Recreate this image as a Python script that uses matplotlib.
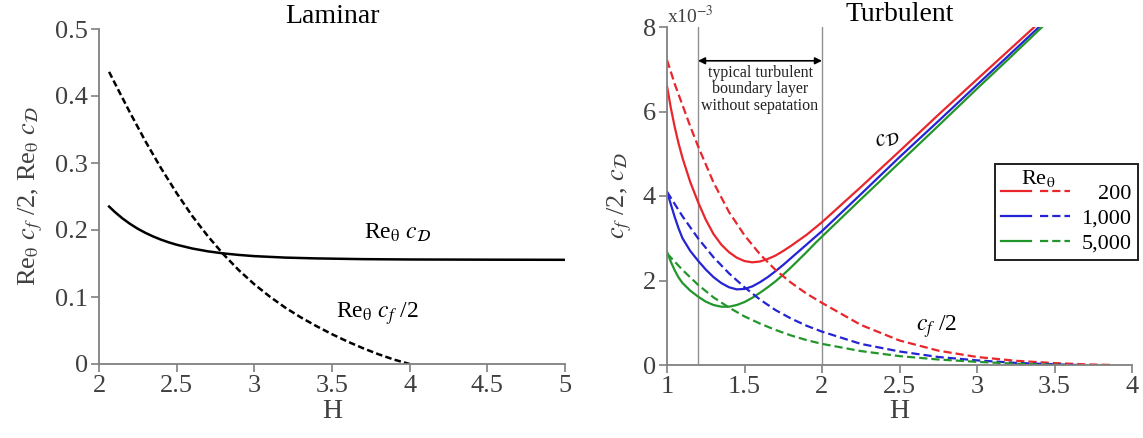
import matplotlib
matplotlib.use("Agg")
import matplotlib.pyplot as plt
from matplotlib.legend_handler import HandlerTuple

plt.rcParams['font.family'] = ['Liberation Serif', 'DejaVu Serif']
plt.rcParams['mathtext.fontset'] = 'stix'

# ---- laminar closure (Re_theta * cf/2 and Re_theta * cD vs H)
lam_H_cf = [2.065, 2.1, 2.2, 2.3, 2.4, 2.5, 2.6, 2.7, 2.8, 2.9, 3.0, 3.1, 3.2, 3.3,
            3.4, 3.5, 3.6, 3.7, 3.8, 3.9, 4.0]
lam_cf = [0.436, 0.420, 0.375, 0.332, 0.292, 0.255, 0.221, 0.191, 0.164, 0.140, 0.119,
          0.1005, 0.084, 0.0695, 0.0565, 0.0445, 0.0335, 0.0235, 0.0145, 0.0065, 0.0]

lam_H_cd = [2.065, 2.1, 2.15, 2.2, 2.25, 2.3, 2.35, 2.4, 2.45, 2.5, 2.6, 2.7, 2.8, 2.9,
            3.0, 3.2, 3.4, 3.7, 4.0, 4.5, 5.0]
lam_cd = [0.235, 0.2273, 0.2175, 0.2091, 0.2018, 0.1956, 0.1902, 0.1855, 0.1815, 0.178,
          0.1724, 0.1682, 0.1651, 0.1628, 0.161, 0.1588, 0.1576, 0.1565, 0.156, 0.1557,
          0.1555]

# ---- turbulent closure, values in units of 1e-3
Re_labels = ['200', '1,000', '5,000']
colors = ['#e8262b', '#2424d4', '#23962b']

cd_H_200 = [1.0, 1.025, 1.05, 1.075, 1.1, 1.15, 1.2, 1.25, 1.3, 1.35, 1.4, 1.45, 1.5,
            1.55, 1.6, 1.65, 1.7, 1.75, 1.8, 1.9, 2.0, 2.25, 2.5, 2.75, 3.0, 3.2, 3.37]
cd_200 = [6.60, 6.08, 5.63, 5.24, 4.90, 4.33, 3.86, 3.44, 3.10, 2.85, 2.67, 2.54, 2.46,
          2.43, 2.45, 2.51, 2.59, 2.70, 2.82, 3.08, 3.38, 4.21, 5.06, 5.92, 6.76, 7.43, 8.0]

cd_H_1000 = [1.0, 1.025, 1.05, 1.075, 1.1, 1.15, 1.2, 1.25, 1.3, 1.35, 1.4, 1.45, 1.5,
             1.55, 1.6, 1.65, 1.7, 1.75, 1.8, 1.85, 1.9, 1.95, 2.0, 2.25, 2.5, 2.75,
             3.0, 3.2, 3.40]
cd_1000 = [4.10, 3.80, 3.50, 3.23, 3.00, 2.70, 2.47, 2.26, 2.08, 1.94, 1.84, 1.79, 1.80,
           1.86, 1.96, 2.08, 2.22, 2.37, 2.53, 2.69, 2.85, 3.01, 3.17, 4.04, 4.92, 5.77,
           6.63, 7.31, 8.0]

cd_H_5000 = [1.0, 1.025, 1.05, 1.075, 1.1, 1.15, 1.2, 1.25, 1.3, 1.35, 1.4, 1.45, 1.5,
             1.55, 1.6, 1.65, 1.7, 1.75, 1.8, 1.85, 1.9, 1.95, 2.0, 2.25, 2.5, 2.75,
             3.0, 3.2, 3.42]
cd_5000 = [2.68, 2.44, 2.24, 2.07, 1.94, 1.76, 1.62, 1.50, 1.42, 1.38, 1.38, 1.42, 1.49,
           1.59, 1.71, 1.84, 1.98, 2.14, 2.31, 2.49, 2.67, 2.86, 3.04, 3.92, 4.79, 5.66,
           6.54, 7.23, 8.0]

cf_H_200 = [1.0, 1.05, 1.1, 1.15, 1.2, 1.3, 1.4, 1.5, 1.6, 1.7, 1.8, 1.9, 2.0, 2.25,
            2.5, 2.75, 3.0, 3.25, 3.5, 3.7, 3.88]
cf_200 = [7.22, 6.65, 6.15, 5.65, 5.18, 4.32, 3.62, 3.07, 2.62, 2.25, 1.95, 1.69, 1.47,
          0.95, 0.58, 0.34, 0.19, 0.10, 0.045, 0.015, 0.0]

cf_H_1000 = [1.0, 1.1, 1.2, 1.3, 1.4, 1.5, 1.6, 1.7, 1.8, 1.9, 2.0, 2.25, 2.5, 2.75,
             3.0, 3.25, 3.5, 3.65]
cf_1000 = [4.10, 3.52, 3.00, 2.55, 2.17, 1.84, 1.55, 1.30, 1.10, 0.93, 0.79, 0.50, 0.32,
           0.19, 0.11, 0.05, 0.016, 0.0]

cf_H_5000 = [1.0, 1.1, 1.2, 1.3, 1.4, 1.5, 1.6, 1.7, 1.8, 1.9, 2.0, 2.25, 2.5, 2.75,
             3.0, 3.25, 3.55]
cf_5000 = [2.64, 2.25, 1.90, 1.60, 1.36, 1.15, 0.98, 0.83, 0.70, 0.59, 0.50, 0.33, 0.21,
           0.13, 0.075, 0.03, 0.0]

cd_series = [(cd_H_200, cd_200), (cd_H_1000, cd_1000), (cd_H_5000, cd_5000)]
cf_series = [(cf_H_200, cf_200), (cf_H_1000, cf_1000), (cf_H_5000, cf_5000)]

lam_xticks = [2, 2.5, 3, 3.5, 4, 4.5, 5]
lam_xlabels = ['2', '2.5', '3', '3.5', '4', '4.5', '5']
lam_yticks = [0, 0.1, 0.2, 0.3, 0.4, 0.5]
lam_ylabels = ['0', '0.1', '0.2', '0.3', '0.4', '0.5']
turb_xticks = [1, 1.5, 2, 2.5, 3, 3.5, 4]
turb_xlabels = ['1', '1.5', '2', '2.5', '3', '3.5', '4']
turb_yticks = [0, 2, 4, 6, 8]
turb_ylabels = ['0', '2', '4', '6', '8']

W, Hpx = 1143, 438
fig = plt.figure(figsize=(W / 100, Hpx / 100), dpi=100)
ax1 = fig.add_axes([99 / W, (Hpx - 364) / Hpx, 466 / W, 335 / Hpx])
ax2 = fig.add_axes([667 / W, (Hpx - 365) / Hpx, 465 / W, 338 / Hpx])

TICK_FS = 19
for ax in (ax1, ax2):
    for s in ('top', 'right'):
        ax.spines[s].set_visible(False)
    for s in ('left', 'bottom'):
        ax.spines[s].set_color('#808080')
        ax.spines[s].set_linewidth(1.3)
    ax.tick_params(direction='out', length=6, width=1.2, color='#808080',
                   labelsize=TICK_FS, labelcolor='#404040', pad=2)

# Laminar panel
ax1.plot(lam_H_cd, lam_cd, color='black', lw=1.8)
ax1.plot(lam_H_cf, lam_cf, color='black', lw=1.8, dashes=(2.6, 1.3))
ax1.set_xlim(2, 5)
ax1.set_ylim(0, 0.5)
ax1.set_xticks(lam_xticks, lam_xlabels)
ax1.set_yticks(lam_yticks, lam_ylabels)
ax1.set_xlabel('H', fontsize=20, color='#404040', labelpad=1)
ax1.set_ylabel(r'Re$_\mathrm{\theta}$ $c_f$ /2, Re$_\mathrm{\theta}$ $c_{\mathcal{D}}$',
               fontsize=19, color='#404040', labelpad=7)
ax1.set_title('Laminar', fontsize=20, pad=2)
ax1.text(3.92, 0.196, r'Re$_\mathrm{\theta}$ $c_{\mathcal{D}}$', fontsize=17,
         ha='center', va='center')
ax1.text(3.79, 0.075, r'Re$_\mathrm{\theta}$ $c_f$ /2', fontsize=17,
         ha='center', va='center')

# Turbulent panel
ax2.axvline(1.2, color='#909090', lw=1.0)
ax2.axvline(2.0, color='#909090', lw=1.0)
solid_handles, dashed_handles = [], []
for (h, v), c in zip(cd_series, colors):
    ln, = ax2.plot(h, v, color=c, lw=1.6)
    solid_handles.append(ln)
for (h, v), c in zip(cf_series, colors):
    ln, = ax2.plot(h, v, color=c, lw=1.6, dashes=(3.7, 1.8))
    dashed_handles.append(ln)

ax2.set_xlim(1, 4)
ax2.set_ylim(0, 8)
ax2.set_xticks(turb_xticks, turb_xlabels)
ax2.set_yticks(turb_yticks, turb_ylabels)
ax2.set_xlabel('H', fontsize=20, color='#404040', labelpad=1)
ax2.set_ylabel(r'$c_f$ /2, $c_{\mathcal{D}}$', fontsize=19, color='#404040', labelpad=6)
ax2.set_title('Turbulent', fontsize=20, pad=2)
ax2.text(0.0, 1.0, r'x10$^{-3}$', transform=ax2.transAxes, fontsize=14,
         color='#404040', ha='left', va='bottom')

ax2.annotate('', xy=(1.2, 7.2), xytext=(2.0, 7.2),
             arrowprops=dict(arrowstyle='<|-|>', color='black', lw=1.2,
                             mutation_scale=10, shrinkA=0, shrinkB=0))
ax2.text(1.6, 6.53, 'typical turbulent\nboundary layer\nwithout sepatation',
         fontsize=11.5, ha='center', va='center', linespacing=1.05, color='#202020')
ax2.text(2.42, 5.36, r'$c_{\mathcal{D}}$', fontsize=17, ha='center', va='center', rotation=20)
ax2.text(2.74, 0.9, r'$c_f$ /2', fontsize=17, ha='center', va='center')

LEG_FS = 16
leg = ax2.legend(list(zip(solid_handles, dashed_handles)), Re_labels,
                 handler_map={tuple: HandlerTuple(ndivide=None, pad=0.4)},
                 loc='upper left', bbox_to_anchor=(0.705, 0.595),
                 title=' ', title_fontsize=6,
                 fontsize=LEG_FS, handlelength=3.1, handletextpad=0.5, labelspacing=0.2,
                 borderpad=0.3, borderaxespad=0, fancybox=False, framealpha=1)
leg.get_frame().set_edgecolor('#202020')
leg.get_frame().set_linewidth(1.4)

# legend title and right-aligned Reynolds numbers drawn over the legend box
fig.canvas.draw()
renderer = fig.canvas.get_renderer()
lb = leg.get_window_extent(renderer)
texts = leg.get_texts()
exts = [t.get_window_extent(renderer) for t in texts]
right = max(e.x1 for e in exts)
for t, e in zip(texts, exts):
    t.set_visible(False)
    fig.text(right / W, e.y0 / Hpx, t.get_text(), fontsize=LEG_FS, ha='right', va='bottom')
fig.text((lb.x0 + 43) / W, (lb.y1 - 15) / Hpx, r'Re$_\mathrm{\theta}$', fontsize=LEG_FS,
         ha='center', va='center')

fig.savefig('out.png', dpi=100)
